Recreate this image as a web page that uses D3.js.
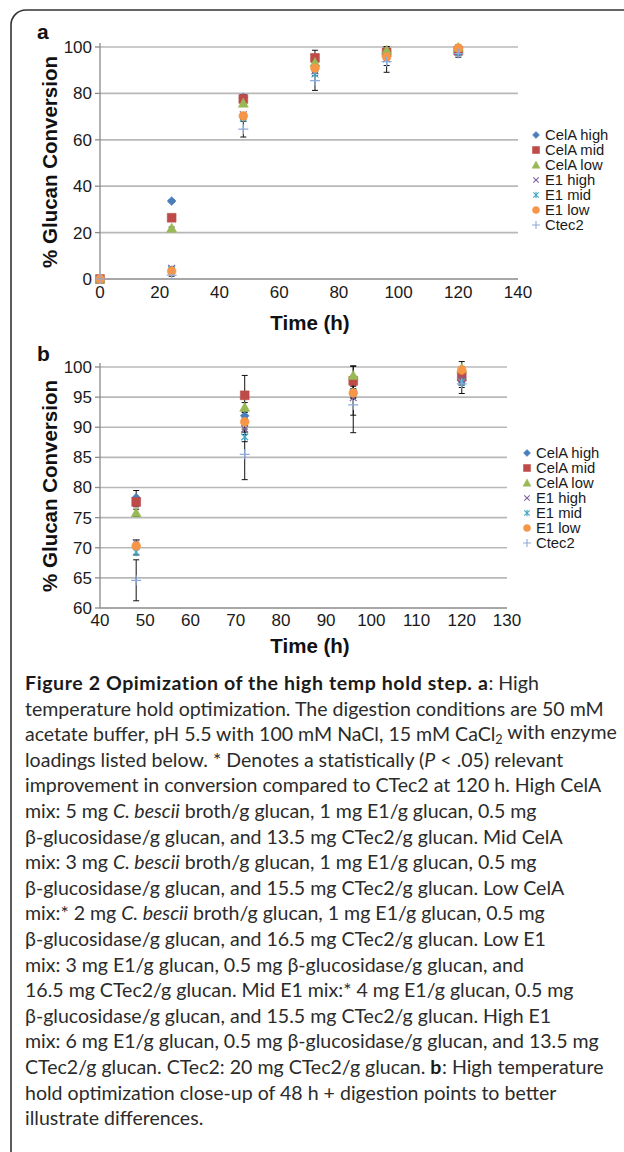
<!DOCTYPE html>
<html lang="en">
<head>
<meta charset="UTF-8" />
<title>Figure 2 - High temp hold step</title>
<script src="https://cdn.jsdelivr.net/npm/d3@7"></script>
<style>
  body { margin: 0; background: #fff; }
  svg { display: block; }
  .tick-label { font-family: "Liberation Sans", Arial, sans-serif; font-size: 17px; fill: #1a1a1a; }
  .axis-title { font-family: "Liberation Sans", Arial, sans-serif; font-size: 20.5px; font-weight: bold; fill: #111; }
  .panel-label { font-family: "Liberation Sans", Arial, sans-serif; font-size: 21px; font-weight: bold; fill: #111; }
  .legend-label { font-family: "Liberation Sans", Arial, sans-serif; font-size: 14.8px; fill: #1a1a1a; }
  .caption { font-family: Lato, "Open Sans", sans-serif; fill: #2b2b2b; }
  .grid { stroke: #b8b8b8; stroke-width: 1.7px; }
  .axis-line { stroke: #8a8a8a; stroke-width: 1.3px; fill: none; }
  .err { stroke: #111; stroke-width: 1px; }
</style>
</head>
<body>
<svg id="fig" width="624" height="1152"></svg>
<script>
// sampling times (h)
const times = [0, 24, 48, 72, 96, 120];

// % glucan conversion
const celaHigh = [0, 33.6, 78.3, 91.9, 98.0, 97.8];
const celaMid  = [0, 26.4, 77.6, 95.3, 97.7, 98.4];
const celaLow  = [0, 21.9, 75.8, 93.3, 98.6, 99.8];
const e1High   = [0, 4.6, 70.8, 89.7, 94.9, 98.0];
const e1Mid    = [0, 4.0, 69.3, 88.4, 95.8, 97.5];
const e1Low    = [0, 3.4, 70.3, 90.9, 95.7, 99.5];
const ctec2    = [0, 1.7, 64.6, 85.5, 93.7, 97.2];

// error bars (+/-)
const celaHighErr = [0, 0.5, 1.2, 0.6, 0.5, 0.6];
const celaMidErr  = [0, 0.6, 0.8, 3.3, 2.4, 1.0];
const celaLowErr  = [0, 0.5, 0.6, 0.8, 1.6, 1.1];
const e1HighErr   = [0, 0.5, 0.5, 0.9, 2.9, 1.0];
const e1MidErr    = [0, 0.5, 0.5, 0.8, 1.0, 0.9];
const e1LowErr    = [0, 0.4, 0.5, 0.6, 0.7, 0.5];
const ctec2Err    = [0, 0.5, 3.4, 4.2, 4.6, 1.6];

const seriesNames = ["CelA high", "CelA mid", "CelA low", "E1 high", "E1 mid", "E1 low", "Ctec2"];

// tick values
const ticksAX = [0, 20, 40, 60, 80, 100, 120, 140];
const ticksAY = [0, 20, 40, 60, 80, 100];
const ticksBX = [40, 50, 60, 70, 80, 90, 100, 110, 120, 130];
const ticksBY = [60, 65, 70, 75, 80, 85, 90, 95, 100];

const allValues = [celaHigh, celaMid, celaLow, e1High, e1Mid, e1Low, ctec2];
const allErrors = [celaHighErr, celaMidErr, celaLowErr, e1HighErr, e1MidErr, e1LowErr, ctec2Err];
const markerTypes = ["diamond", "square", "triangle", "times", "asterisk", "circle", "plus"];
const colors = ["#4a7ebb", "#be4b48", "#98b954", "#7d60a0", "#46aac5", "#f79646", "#8faadc"];

const series = seriesNames.map((name, i) => ({
  name,
  marker: markerTypes[i],
  color: colors[i],
  points: times.map((t, j) => ({ t, v: allValues[i][j], e: allErrors[i][j] }))
}));

function markerPath(type, k) {
  k = k || 1;
  const r = 4.4 * k;
  switch (type) {
    case "diamond": return `M0,${-r}L${r},0L0,${r}L${-r},0Z`;
    case "square": return `M${-r},${-r}H${r}V${r}H${-r}Z`;
    case "triangle": return `M0,${-5 * k}L${5 * k},${4 * k}L${-5 * k},${4 * k}Z`;
    case "circle": return `M${r},0A${r},${r} 0 1,1 ${-r},0A${r},${r} 0 1,1 ${r},0Z`;
    case "times": { const a = 3.4 * k; return `M${-a},${-a}L${a},${a}M${-a},${a}L${a},${-a}`; }
    case "asterisk": { const a = 3.4 * k; return `M${-a},${-a}L${a},${a}M${-a},${a}L${a},${-a}M0,${-4.2 * k}V${4.2 * k}`; }
    case "plus": { const a = 5 * k; return `M${-a},0H${a}M0,${-a}V${a}`; }
  }
}
const strokeMarkers = new Set(["times", "asterisk", "plus"]);

const svg = d3.select("#fig");
svg.append("rect").attr("width", 624).attr("height", 1152).attr("fill", "#fff");

// rounded frame, open to the right and bottom
const fr = 15;
svg.append("path")
  .attr("d", `M11,1160V${10 + fr}A${fr},${fr} 0 0,1 ${11 + fr},10H640`)
  .attr("fill", "none").attr("stroke", "#333").attr("stroke-width", 1.6);

function drawPanel(o) {
  const g = svg.append("g");
  const x = d3.scaleLinear().domain(o.xDomain).range([o.left, o.right]);
  const y = d3.scaleLinear().domain(o.yDomain).range([o.bottom, o.top]);

  // gridlines
  g.selectAll(".grid").data(o.yTicks.filter(d => d !== o.yDomain[0])).join("line")
    .attr("class", "grid")
    .attr("x1", o.left).attr("x2", o.right)
    .attr("y1", d => y(d)).attr("y2", d => y(d));

  // axes
  g.append("line").attr("class", "axis-line")
    .attr("x1", o.left).attr("x2", o.left).attr("y1", o.top - 4).attr("y2", o.bottom);
  g.append("line").attr("class", "axis-line")
    .attr("x1", o.left).attr("x2", o.right).attr("y1", o.bottom).attr("y2", o.bottom);
  g.selectAll(".ytick").data(o.yTicks).join("line")
    .attr("class", "axis-line")
    .attr("x1", o.left - 5).attr("x2", o.left)
    .attr("y1", d => y(d)).attr("y2", d => y(d));

  g.selectAll(".ylab").data(o.yTicks).join("text")
    .attr("class", "tick-label")
    .attr("x", o.left - 8).attr("y", d => y(d)).attr("dy", "0.35em")
    .attr("text-anchor", "end").text(d => d);
  g.selectAll(".xlab").data(o.xTicks).join("text")
    .attr("class", "tick-label")
    .attr("x", d => x(d)).attr("y", o.bottom + o.xLabelOffset)
    .attr("text-anchor", "middle").text(d => d);

  g.append("text").attr("class", "axis-title")
    .attr("x", 310).attr("y", o.xTitleY).attr("text-anchor", "middle").text("Time (h)");
  g.append("text").attr("class", "axis-title")
    .attr("transform", `translate(50,${o.yTitleY}) rotate(-90)`)
    .attr("text-anchor", "middle").attr("dy", "0.35em").text("% Glucan Conversion");
  g.append("text").attr("class", "panel-label")
    .attr("x", 37).attr("y", o.letterY).text(o.letter);

  // error bars
  series.forEach(s => {
    const pts = s.points.filter(p => p.t >= o.xDomain[0] && p.e > 0);
    const eg = g.append("g");
    pts.forEach(p => {
      const cx = x(p.t), yt = y(p.v + p.e), yb = y(p.v - p.e);
      eg.append("line").attr("class", "err").attr("x1", cx).attr("x2", cx).attr("y1", yt).attr("y2", yb);
      eg.append("line").attr("class", "err").attr("x1", cx - 3).attr("x2", cx + 3).attr("y1", yt).attr("y2", yt);
      eg.append("line").attr("class", "err").attr("x1", cx - 3).attr("x2", cx + 3).attr("y1", yb).attr("y2", yb);
    });
  });

  // markers
  series.forEach(s => {
    const stroke = strokeMarkers.has(s.marker);
    g.append("g").selectAll("path")
      .data(s.points.filter(p => p.t >= o.xDomain[0]))
      .join("path")
      .attr("d", markerPath(s.marker))
      .attr("transform", p => `translate(${x(p.t)},${y(p.v)})`)
      .attr("fill", stroke ? "none" : s.color)
      .attr("stroke", s.color)
      .attr("stroke-width", stroke ? 1.2 : 0.6);
  });

  // legend
  const lg = g.append("g").attr("transform", `translate(${o.legendX},${o.legendY})`);
  series.forEach((s, i) => {
    const stroke = strokeMarkers.has(s.marker);
    lg.append("path").attr("d", markerPath(s.marker, 0.8))
      .attr("transform", `translate(0,${i * 15})`)
      .attr("fill", stroke ? "none" : s.color)
      .attr("stroke", s.color).attr("stroke-width", stroke ? 1.1 : 0.5);
    lg.append("text").attr("class", "legend-label")
      .attr("x", 9).attr("y", i * 15).attr("dy", "0.36em").text(s.name);
  });
}

drawPanel({
  xDomain: [0, 140], yDomain: [0, 100], xTicks: ticksAX, yTicks: ticksAY,
  left: 100, right: 518, top: 47, bottom: 279,
  xLabelOffset: 19, xTitleY: 330, yTitleY: 162, letter: "a", letterY: 39,
  legendX: 536, legendY: 135
});

drawPanel({
  xDomain: [40, 130], yDomain: [60, 100], xTicks: ticksBX, yTicks: ticksBY,
  left: 100, right: 507, top: 367, bottom: 608,
  xLabelOffset: 17.5, xTitleY: 653, yTitleY: 486, letter: "b", letterY: 361,
  legendX: 527, legendY: 453
});

// caption: each line is a list of [text, style]
const captionLines = [
  [["Figure 2 Opimization of the high temp hold step. ", "b"], ["a", "b"], [": High", ""]],
  [["temperature hold optimization. The digestion conditions are 50 mM", ""]],
  [["acetate buffer, pH 5.5 with 100 mM NaCl, 15 mM CaCl", ""], ["2", "sub"], [" with enzyme", "after-sub"]],
  [["loadings listed below. * Denotes a statistically (", ""], ["P", "i"], [" < .05) relevant", ""]],
  [["improvement in conversion compared to CTec2 at 120 h. High CelA", ""]],
  [["mix: 5 mg ", ""], ["C. bescii", "i"], [" broth/g glucan, 1 mg E1/g glucan, 0.5 mg", ""]],
  [["β-glucosidase/g glucan, and 13.5 mg CTec2/g glucan. Mid CelA", ""]],
  [["mix: 3 mg ", ""], ["C. bescii", "i"], [" broth/g glucan, 1 mg E1/g glucan, 0.5 mg", ""]],
  [["β-glucosidase/g glucan, and 15.5 mg CTec2/g glucan. Low CelA", ""]],
  [["mix:* 2 mg ", ""], ["C. bescii", "i"], [" broth/g glucan, 1 mg E1/g glucan, 0.5 mg", ""]],
  [["β-glucosidase/g glucan, and 16.5 mg CTec2/g glucan. Low E1", ""]],
  [["mix: 3 mg E1/g glucan, 0.5 mg β-glucosidase/g glucan, and", ""]],
  [["16.5 mg CTec2/g glucan. Mid E1 mix:* 4 mg E1/g glucan, 0.5 mg", ""]],
  [["β-glucosidase/g glucan, and 15.5 mg CTec2/g glucan. High E1", ""]],
  [["mix: 6 mg E1/g glucan, 0.5 mg β-glucosidase/g glucan, and 13.5 mg", ""]],
  [["CTec2/g glucan. CTec2: 20 mg CTec2/g glucan. ", ""], ["b", "b"], [": High temperature", ""]],
  [["hold optimization close-up of 48 h + digestion points to better", ""]],
  [["illustrate differences.", ""]]
];

const cap = svg.append("g").attr("class", "caption").attr("font-size", 16);
const capTexts = captionLines.map((line, i) => {
  const t = cap.append("text").attr("x", 25).attr("y", 690 + i * 25.6);
  line.forEach(([txt, st]) => {
    const sp = t.append("tspan").text(txt);
    if (st === "b") sp.attr("font-weight", "bold").attr("fill", "#1a1a1a").attr("letter-spacing", "0.03em");
    if (st === "i") sp.attr("font-style", "italic");
    if (st === "sub") sp.style("font-size", "0.65em").attr("dy", "0.25em");
    if (st === "after-sub") sp.attr("dy", "-0.25em");
  });
  return t;
});
// size the caption so the widest line fills the frame width
const widest = d3.max(capTexts, t => t.node().getComputedTextLength());
cap.attr("font-size", 16 * 592 / widest);
</script>
</body>
</html>
